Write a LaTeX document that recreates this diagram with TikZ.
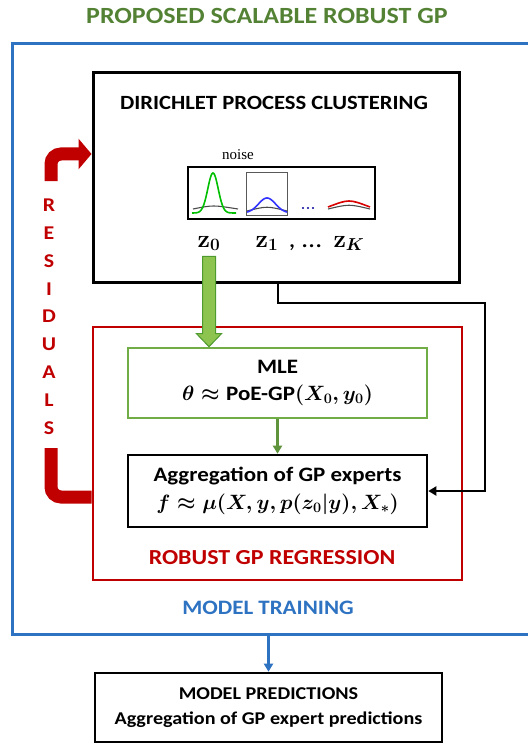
\documentclass[tikz,border=0pt]{standalone}
\usepackage{amsmath}
\usepackage{fontspec}
\setmainfont{Carlito}[FakeStretch=1.12]
\newfontfamily\noisefont{Liberation Serif}
\usetikzlibrary{arrows.meta,calc}
\definecolor{tgreen}{HTML}{548235}
\definecolor{bgreen}{HTML}{70AD47}
\definecolor{lgreen}{HTML}{8DC450}
\definecolor{dgreen}{HTML}{4E9A2E}
\definecolor{dred}{HTML}{C00000}
\definecolor{mblue}{HTML}{2E72C2}
\tikzset{
  boxnode/.style={draw, line width=2.6pt, inner sep=0pt, align=center},
  conn/.style={line width=2.2pt, -{Triangle[length=8pt,width=9pt]}},
  resid/.style={draw=dred, line width=13pt, rounded corners=10pt},
  letter/.style={text=dred, font=\fontsize{19.5}{20}\selectfont\bfseries},
  zlab/.style={font=\fontsize{25}{27}\selectfont\boldmath, anchor=base},
}
\begin{document}
\begin{tikzpicture}[x=1pt,y=-1pt]
\useasboundingbox (0,0) rectangle (528,746);
% title
\node[text=tgreen, font=\fontsize{23.2}{26}\selectfont\bfseries] (title) at (267,16) {PROPOSED SCALABLE ROBUST GP};
% blue outer frame (open on right, runs off the page)
\draw[mblue, line width=3pt] (528,44) -- (12,44) -- (12,634) -- (528,634);
\node[text=mblue, font=\fontsize{20.5}{22}\selectfont\bfseries] (train) at (268,608) {MODEL TRAINING};
% DP clustering box
\node[boxnode, line width=3pt, minimum width=366pt, minimum height=209pt] (dp) at (276,177.5) {};
\node[font=\fontsize{20.2}{22}\selectfont\bfseries] (dptitle) at (274,103) {DIRICHLET PROCESS CLUSTERING};
% noise picture
\node[font=\fontsize{15}{16}\selectfont\noisefont] (noise) at (238,155) {noise};
\draw[line width=2.8pt] (188,167) rectangle (375,219);
\draw[gray!70!black, line width=1pt] (246,173) rectangle (287,215);
\draw[gray!60!black, line width=1.1pt] (193,209) .. controls (213,205) .. (238,209);
\draw[green!75!black, line width=1.6pt, domain=192:236, samples=60, smooth] plot (\x, {213-40*exp(-((\x-213)^2)/(2*5.2^2))});
\draw[gray!60!black, line width=1.1pt] (247,211) .. controls (267,206) .. (287,211);
\draw[blue!80!white, line width=1.6pt, domain=247:287, samples=40, smooth] plot (\x, {213-15*exp(-((\x-267)^2)/(2*8.5^2))});
\foreach \dx in {303,308,313} \fill[blue!60!black] (\dx,208) circle (1.1pt);
\draw[gray!60!black, line width=1.1pt] (328,209) .. controls (349,204) .. (370,209);
\draw[red!85!black, line width=1.6pt] (328,207) .. controls (349,199) .. (370,207);
% z labels
\node[zlab] (z0) at (209,247) {$\mathbf{z}_0$};
\node[zlab] (z1) at (267,247) {$\mathbf{z}_1$};
\node[zlab] (zdots) at (305,247) {, \ldots};
\node[zlab] (zK) at (349,247) {$\mathbf{z}_K$};
% red regression box
\node[boxnode, draw=dred, line width=2.6pt, minimum width=369pt, minimum height=253pt] (red) at (277.5,453.5) {};
\node[text=dred, font=\fontsize{21.4}{23}\selectfont\bfseries] (robust) at (272,558) {ROBUST GP REGRESSION};
% MLE box
\node[boxnode, draw=bgreen, line width=2.6pt, minimum width=299pt, minimum height=70pt, font=\fontsize{20.5}{27}\selectfont\bfseries] (mle) at (277.5,383) {MLE\\{\boldmath$\theta\approx{}$}PoE-GP{\boldmath$(X_0,y_0)$}};
% aggregation box
\node[boxnode, line width=2.6pt, minimum width=299pt, minimum height=72pt, font=\fontsize{20.5}{28}\selectfont\bfseries] (agg) at (277.5,491) {Aggregation of GP experts\\{\boldmath$f\approx\mu(X,y,p(z_0|y),X_*)$}};
% predictions box
\node[boxnode, line width=2.6pt, minimum width=347pt, minimum height=69pt, font=\fontsize{18}{25}\selectfont\bfseries] (pred) at (268.5,707.5) {MODEL PREDICTIONS\\Aggregation of GP expert predictions};
% green block arrow z0 -> MLE
\filldraw[draw=dgreen, fill=lgreen, line width=1pt]
  let \p1=(z0.south), \p2=(mle.north) in
  (\x1-6.5pt,\y1-2pt) -- (\x1+6.5pt,\y1-2pt) -- (\x1+6.5pt,\y2+13pt) -- (\x1+12.5pt,\y2+13pt)
  -- (\x1,\y2) -- (\x1-12.5pt,\y2+13pt) -- (\x1-6.5pt,\y2+13pt) -- cycle;
% MLE -> aggregation
\draw[bgreen!85!black, line width=2.2pt, -{Triangle[length=8pt,width=9pt]}] (mle.south) -- (agg.north);
% DP -> aggregation connector
\coordinate (c1) at (278,303);
\coordinate (xr) at (485,0);
\draw[conn] (dp.south -| c1) -- (c1) -| (xr |- agg.east) -- (agg.east);
% blue arrow to predictions
\coordinate (bb) at (0,634);
\draw[mblue, line width=2.4pt, -{Triangle[length=8pt,width=9pt]}] (pred.north |- bb) -- (pred.north);
% residuals loop
\coordinate (rb) at (0,497);
\coordinate (rt) at (0,154);
\draw[resid] (red.west |- rb) -- (51,497) -- (51,448);
\draw[resid, -{Triangle[length=13pt,width=30pt]}] (51,181) -- (51,154) -- (dp.west |- rt);
\foreach \ch [count=\i from 0] in {R,E,S,I,D,U,A,L,S}
  \node[letter] (res\i) at (49,{205+27.9*\i}) {\ch};
\end{tikzpicture}
\end{document}
